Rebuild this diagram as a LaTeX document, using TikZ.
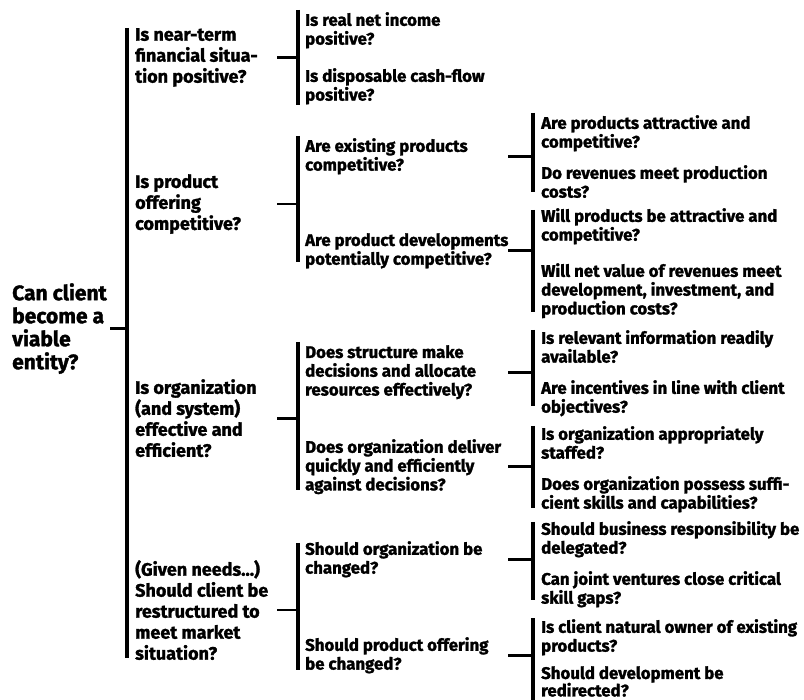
\documentclass[tikz,border=0pt]{standalone}
\usepackage{fontspec}
\setmainfont{Fira Sans}[BoldFeatures={FakeBold=1.5}]
\tikzset{
  q/.style={anchor=north west, inner sep=0pt, align=left,
    font=\bfseries\fontsize{16.8}{18.8}\selectfont},
  qmid/.style={q, font=\bfseries\fontsize{18}{21}\selectfont},
  qroot/.style={q, font=\bfseries\fontsize{21}{23}\selectfont},
  bar/.style={line width=3.4pt},
  stub/.style={line width=2.8pt}
}
\begin{document}
\begin{tikzpicture}[x=1pt, y=-1pt]
  \useasboundingbox (0,0) rectangle (804,700);
  % columns of the brackets
  \coordinate (s0) at (110,0);
  \coordinate (b0) at (127,0);
  \coordinate (s1) at (277,0);
  \coordinate (b1) at (298,0);
  \coordinate (s2) at (508,0);
  \coordinate (b2) at (533,0);

  % root question
  \node[qroot] (root) at (12,283) {Can client\\become a\\viable\\entity?};
  \draw[bar] (127,28) -- (127,658);
  \draw[stub] (root.east -| s0) -- (root.east -| b0);

  % first level
  \node[qmid] (fin) at (135,28) {Is near-term\\financial situa-\\tion positive?};
  \node[qmid] (prod) at (135,174) {Is product\\offering\\competitive?};
  \node[qmid] (org) at (135,379) {Is organization\\(and system)\\effective and\\efficient?};
  \node[qmid] (restr) at (135,560) {(Given needs...)\\Should client be\\restructured to\\meet market\\situation?};

  % near-term financial situation
  \draw[bar] (298,10) -- (298,105);
  \draw[stub] (fin.east -| s1) -- (fin.east -| b1);
  \node[q] (inc) at (305,12) {Is real net income\\positive?};
  \node[q] (cash) at (305,68) {Is disposable cash-flow\\positive?};

  % product offering
  \draw[bar] (298,136) -- (298,262);
  \draw[stub] (prod.east -| s1) -- (prod.east -| b1);
  \node[q] (exist) at (305,138) {Are existing products\\competitive?};
  \node[q] (devel) at (305,233) {Are product developments\\potentially competitive?};

  \draw[bar] (533,113) -- (533,192);
  \draw[stub] (exist.east -| s2) -- (exist.east -| b2);
  \node[q] (attr) at (541,115) {Are products attractive and\\competitive?};
  \node[q] (rev) at (541,165) {Do revenues meet production\\costs?};

  \draw[bar] (533,210) -- (533,312);
  \draw[stub] (devel.east -| s2) -- (devel.east -| b2);
  \node[q] (willattr) at (541,208) {Will products be attractive and\\competitive?};
  \node[q] (netval) at (541,263) {Will net value of revenues meet\\development, investment, and\\production costs?};

  % organization
  \draw[bar] (298,342) -- (298,490);
  \draw[stub] (org.east -| s1) -- (org.east -| b1);
  \node[q] (struct) at (305,345) {Does structure make\\decisions and allocate\\resources effectively?};
  \node[q] (deliv) at (305,439) {Does organization deliver\\quickly and efficiently\\against decisions?};

  \draw[bar] (533,330) -- (533,406);
  \draw[stub] (struct.east -| s2) -- (struct.east -| b2);
  \node[q] (info) at (541,330) {Is relevant information readily\\available?};
  \node[q] (incent) at (541,380) {Are incentives in line with client\\objectives?};

  \draw[bar] (533,426) -- (533,508);
  \draw[stub] (deliv.east -| s2) -- (deliv.east -| b2);
  \node[q] (staff) at (541,426) {Is organization appropriately\\staffed?};
  \node[q] (skill) at (541,476) {Does organization possess suffi-\\cient skills and capabilities?};

  % restructuring
  \draw[bar] (298,543) -- (298,670);
  \draw[stub] (restr.east -| s1) -- (restr.east -| b1);
  \node[q] (chorg) at (305,541) {Should organization be\\changed?};
  \node[q] (chprod) at (305,637) {Should product offering\\be changed?};

  \draw[bar] (533,522) -- (533,600);
  \draw[stub] (chorg.east -| s2) -- (chorg.east -| b2);
  \node[q] (deleg) at (541,521) {Should business responsibility be\\delegated?};
  \node[q] (joint) at (541,571) {Can joint ventures close critical\\skill gaps?};

  \draw[bar] (533,618) -- (533,700);
  \draw[stub] (chprod.east -| s2) -- (chprod.east -| b2);
  \node[q] (owner) at (541,619) {Is client natural owner of existing\\products?};
  \node[q, font=\bfseries\fontsize{16.8}{17.5}\selectfont] (redir) at (541,666) {Should development be\\redirected?};
\end{tikzpicture}
\end{document}
